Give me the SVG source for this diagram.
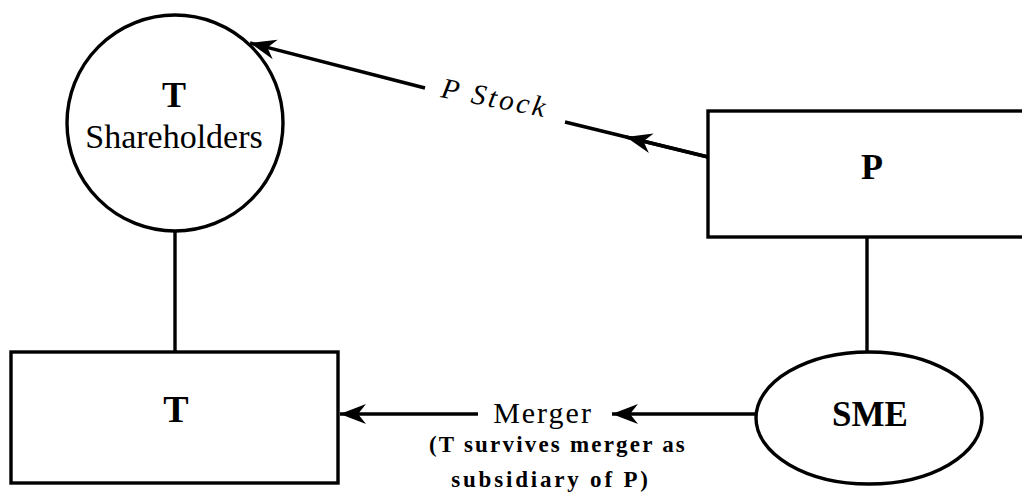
<svg xmlns="http://www.w3.org/2000/svg" width="1022" height="498" viewBox="0 0 1022 498">
<style>
.shape{fill:#fff;stroke:#000;stroke-width:3.4}
.line{stroke:#000;stroke-width:3.4;fill:none}
.serif{font-family:"Liberation Serif","Times New Roman",serif;fill:#000}
.bold{font-weight:bold}
</style>
<defs>
<marker id="arr" markerUnits="userSpaceOnUse" markerWidth="30" markerHeight="24" viewBox="-28 -12 30 24" refX="0" refY="0" orient="auto">
<path d="M0,0 L-26,-10 L-18,0 L-26,10 Z" fill="#000"/>
</marker>
</defs>
<rect width="1022" height="498" fill="#fff"/>
<g id="t-shareholders">
<circle class="shape" cx="175" cy="123" r="108"/>
<text class="serif bold" font-size="36" x="174" y="107" text-anchor="middle">T</text>
<text class="serif" font-size="34" x="174" y="148" text-anchor="middle">Shareholders</text>
</g>
<g id="p">
<rect class="shape" x="708" y="111" width="330" height="126"/>
<text class="serif bold" font-size="36" x="872" y="179" text-anchor="middle">P</text>
</g>
<g id="t">
<rect class="shape" x="11" y="352" width="327" height="131"/>
<text class="serif bold" font-size="38" x="176" y="422" text-anchor="middle">T</text>
</g>
<g id="sme">
<ellipse class="shape" cx="869" cy="418" rx="113" ry="66"/>
<text class="serif bold" font-size="35" x="870" y="426" text-anchor="middle">SME</text>
</g>
<g id="connectors">
<line class="line" x1="175" y1="231" x2="175" y2="352"/>
<line class="line" x1="867" y1="237" x2="867" y2="352"/>
<line class="line" x1="425" y1="88" x2="250" y2="43" marker-end="url(#arr)"/>
<line class="line" x1="565" y1="122" x2="708" y2="157"/>
<line class="line" x1="708" y1="157" x2="626" y2="137" marker-end="url(#arr)"/>
<line class="line" x1="756" y1="414" x2="612" y2="414" marker-end="url(#arr)"/>
<line class="line" x1="478" y1="414" x2="340" y2="414" marker-end="url(#arr)"/>
<text class="serif" font-size="29" font-style="italic" letter-spacing="3" transform="rotate(11 440 97)" x="440" y="97">P Stock</text>
<text class="serif" font-size="30" letter-spacing="2" x="543" y="423" text-anchor="middle">Merger</text>
<text class="serif bold" font-size="23" letter-spacing="2.2" x="558" y="452" text-anchor="middle">(T survives merger as</text>
<text class="serif bold" font-size="23" letter-spacing="2.8" x="551" y="487" text-anchor="middle">subsidiary of P)</text>
</g>
</svg>
